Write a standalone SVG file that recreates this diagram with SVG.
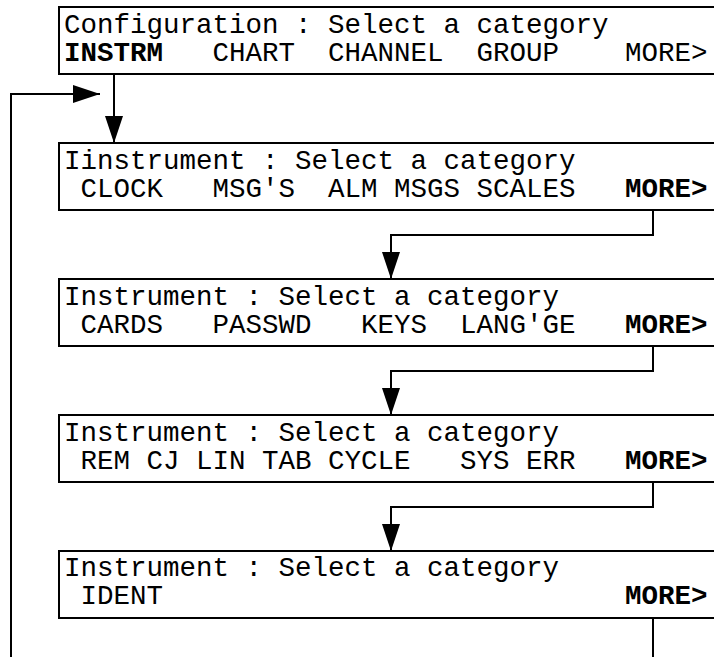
<svg xmlns="http://www.w3.org/2000/svg" width="714" height="657" viewBox="0 0 714 657">
<style>
.box{fill:#fff;stroke:#000;stroke-width:2}
.t{font-family:"Courier New","Nimbus Mono PS","FreeMono","Liberation Mono",monospace;font-size:27.5px;fill:#000}
.b{font-weight:bold}
.c{fill:none;stroke:#000;stroke-width:2}
</style>
<defs>
<marker id="ah" markerUnits="userSpaceOnUse" markerWidth="27" markerHeight="18" refX="27" refY="9" orient="auto" viewBox="0 0 27 18">
<path d="M0,0 L27,9 L0,18 z" fill="#000"/>
</marker>
</defs>
<rect width="714" height="657" fill="#fff"/>
<g id="connectors">
<path class="c" d="M11,657 V94 H100" marker-end="url(#ah)"/>
<path class="c" d="M114,74 V143" marker-end="url(#ah)"/>
<path class="c" d="M653,210 V235 H391 V279" marker-end="url(#ah)"/>
<path class="c" d="M653,346 V371 H391 V415" marker-end="url(#ah)"/>
<path class="c" d="M653,482 V507 H391 V551" marker-end="url(#ah)"/>
<path class="c" d="M653,618 V657"/>
</g>
<g id="node1">
<rect class="box" x="59" y="7" width="660" height="67"/>
<text class="t" x="64" y="33">Configuration : Select a category</text>
<text class="t" y="61"><tspan class="b" x="64">INSTRM</tspan><tspan x="212.5">CHART</tspan><tspan x="328">CHANNEL</tspan><tspan x="476.5">GROUP</tspan><tspan x="625">MORE&gt;</tspan></text>
</g>
<g id="node2">
<rect class="box" x="59" y="143" width="660" height="67"/>
<text class="t" x="64" y="169">Iinstrument : Select a category</text>
<text class="t" y="197"><tspan x="80.5">CLOCK</tspan><tspan x="212.5">MSG'S</tspan><tspan x="328">ALM</tspan><tspan x="394">MSGS</tspan><tspan x="476.5">SCALES</tspan><tspan class="b" x="625">MORE&gt;</tspan></text>
</g>
<g id="node3">
<rect class="box" x="59" y="279" width="660" height="67"/>
<text class="t" x="64" y="305">Instrument : Select a category</text>
<text class="t" y="333"><tspan x="80.5">CARDS</tspan><tspan x="212.5">PASSWD</tspan><tspan x="361">KEYS</tspan><tspan x="460">LANG'GE</tspan><tspan class="b" x="625">MORE&gt;</tspan></text>
</g>
<g id="node4">
<rect class="box" x="59" y="415" width="660" height="67"/>
<text class="t" x="64" y="441">Instrument : Select a category</text>
<text class="t" y="469"><tspan x="80.5">REM</tspan><tspan x="146.5">CJ</tspan><tspan x="196">LIN</tspan><tspan x="262">TAB</tspan><tspan x="328">CYCLE</tspan><tspan x="460">SYS</tspan><tspan x="526">ERR</tspan><tspan class="b" x="625">MORE&gt;</tspan></text>
</g>
<g id="node5">
<rect class="box" x="59" y="551" width="660" height="67"/>
<text class="t" x="64" y="576">Instrument : Select a category</text>
<text class="t" y="604"><tspan x="80.5">IDENT</tspan><tspan class="b" x="625">MORE&gt;</tspan></text>
</g>
</svg>
